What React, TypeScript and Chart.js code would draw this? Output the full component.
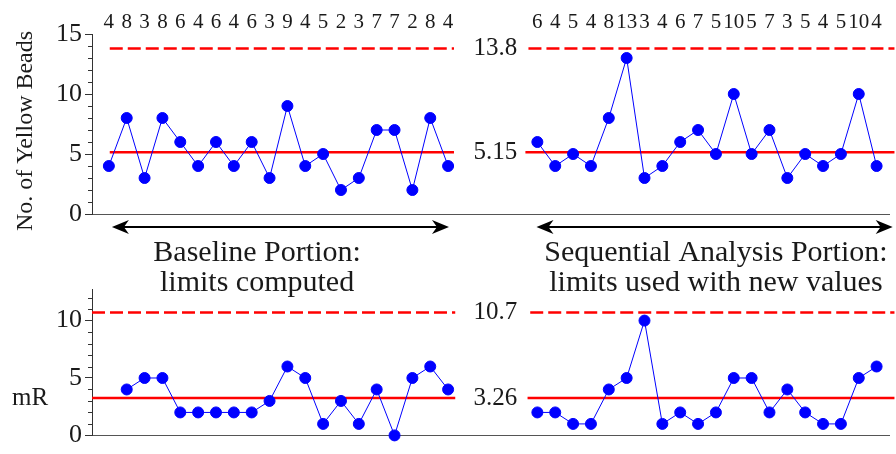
import { useEffect, useRef } from 'react';
import { Chart, registerables } from 'chart.js';
Chart.register(...registerables);

// ---- data ----
const baselineValues = [4, 8, 3, 8, 6, 4, 6, 4, 6, 3, 9, 4, 5, 2, 3, 7, 7, 2, 8, 4];
const sequentialValues = [6, 4, 5, 4, 8, 13, 3, 4, 6, 7, 5, 10, 5, 7, 3, 5, 4, 5, 10, 4];
const baselineMR: (number | null)[] = [null, 4, 5, 5, 2, 2, 2, 2, 2, 3, 6, 5, 1, 3, 1, 4, 0, 5, 6, 4];
const sequentialMR = [2, 2, 1, 1, 4, 5, 10, 1, 2, 1, 2, 5, 5, 2, 4, 2, 1, 1, 5, 6];
const xCenterLine = 5.15;
const xUpperLimit = 13.8;
const mrCenterLine = 3.26;
const mrUpperLimit = 10.7;
const xLabelTexts = ['13.8', '5.15'];
const mrLabelTexts = ['10.7', '3.26'];
const seqStart = 24; // index where the sequential portion begins
const yTitle = 'No. of Yellow Beads';
const mrTitle = 'mR';
const baselineCaption = ['Baseline Portion:', 'limits computed'];
const sequentialCaption = ['Sequential Analysis Portion:', 'limits used with new values'];

const FONT = '"Liberation Serif", "DejaVu Serif", serif';
const BLUE = '#0000ff';
const RED = '#ff0000';
const INK = '#1a1a1a';
const AXIS = '#333333';
const W = 896;
const H = 454;
const X_MIN = -17 / 18;
const X_MAX = 787 / 18;

const pts = (vals: (number | null)[], start: number) =>
  vals.map((v, i) => ({ x: start + i, y: v }));

const seriesDs = (data: any[]) => ({
  data,
  borderColor: BLUE,
  borderWidth: 1,
  pointRadius: 5.5,
  pointBorderWidth: 1,
  pointBackgroundColor: BLUE,
  pointBorderColor: BLUE,
  fill: false,
  tension: 0,
  clip: false as any,
  spanGaps: false,
});

const limitDs = (x0: number, x1: number, y: number, dashed: boolean) => ({
  data: [{ x: x0, y }, { x: x1, y }],
  borderColor: RED,
  borderWidth: 2.5,
  borderDash: dashed ? [13, 5] : [],
  pointRadius: 0,
  fill: false,
  clip: false as any,
});

function minorTicks(maxVal: number) {
  return {
    id: 'minorTicks',
    afterDraw(chart: any) {
      const { ctx } = chart;
      const ys = chart.scales.y;
      const left = chart.chartArea.left;
      ctx.save();
      ctx.strokeStyle = AXIS;
      ctx.lineWidth = 1;
      for (let v = 0; v <= maxVal; v++) {
        if (v % 5 === 0) continue;
        const py = Math.round(ys.getPixelForValue(v)) + 0.5;
        ctx.beginPath();
        ctx.moveTo(left - 4, py);
        ctx.lineTo(left, py);
        ctx.stroke();
      }
      ctx.restore();
    },
  };
}

function drawArrowHead(ctx: CanvasRenderingContext2D, x: number, y: number, dir: number) {
  ctx.beginPath();
  ctx.moveTo(x, y);
  ctx.lineTo(x - dir * 17, y - 7);
  ctx.lineTo(x - dir * 12, y);
  ctx.lineTo(x - dir * 17, y + 7);
  ctx.closePath();
  ctx.fill();
}

function drawArrow(ctx: CanvasRenderingContext2D, x0: number, x1: number, y: number) {
  ctx.save();
  ctx.strokeStyle = '#000';
  ctx.fillStyle = '#000';
  ctx.lineWidth = 2;
  ctx.beginPath();
  ctx.moveTo(x0 + 10, y);
  ctx.lineTo(x1 - 10, y);
  ctx.stroke();
  drawArrowHead(ctx, x0, y, -1);
  drawArrowHead(ctx, x1, y, 1);
  ctx.restore();
}

const topTextPlugin = {
  id: 'topText',
  afterDraw(chart: any) {
    const { ctx, chartArea } = chart;
    const xs = chart.scales.x;
    const ys = chart.scales.y;
    ctx.save();
    ctx.fillStyle = INK;
    ctx.font = `21px ${FONT}`;
    ctx.textAlign = 'center';
    ctx.textBaseline = 'alphabetic';
    baselineValues.forEach((v, i) => ctx.fillText(String(v), xs.getPixelForValue(i), 28));
    sequentialValues.forEach((v, i) => ctx.fillText(String(v), xs.getPixelForValue(seqStart + i), 28));
    ctx.font = `25px ${FONT}`;
    ctx.textAlign = 'right';
    ctx.textBaseline = 'middle';
    const lx = xs.getPixelForValue(seqStart) - 20;
    ctx.fillText(xLabelTexts[0], lx, ys.getPixelForValue(xUpperLimit));
    ctx.fillText(xLabelTexts[1], lx, ys.getPixelForValue(xCenterLine));
    ctx.save();
    ctx.font = `24px ${FONT}`;
    ctx.translate(26, (chartArea.top + chartArea.bottom) / 2 + 7);
    ctx.rotate(-Math.PI / 2);
    ctx.textAlign = 'center';
    ctx.fillText(yTitle, 0, 0);
    ctx.restore();
    const ay = chartArea.bottom + 13;
    drawArrow(ctx, xs.getPixelForValue(0.17), xs.getPixelForValue(19.05), ay);
    drawArrow(ctx, xs.getPixelForValue(23.95), xs.getPixelForValue(43.9), ay);
    ctx.font = `30px ${FONT}`;
    ctx.textAlign = 'center';
    ctx.textBaseline = 'alphabetic';
    const c1 = xs.getPixelForValue(8.3);
    const c2 = xs.getPixelForValue(34.0);
    ctx.fillText(baselineCaption[0], c1, chartArea.bottom + 47);
    ctx.fillText(baselineCaption[1], c1, chartArea.bottom + 77);
    ctx.fillText(sequentialCaption[0], c2, chartArea.bottom + 47);
    ctx.fillText(sequentialCaption[1], c2, chartArea.bottom + 77);
    ctx.restore();
  },
};

const bottomTextPlugin = {
  id: 'bottomText',
  afterDraw(chart: any) {
    const { ctx } = chart;
    const xs = chart.scales.x;
    const ys = chart.scales.y;
    ctx.save();
    ctx.fillStyle = INK;
    ctx.font = `25px ${FONT}`;
    ctx.textAlign = 'right';
    ctx.textBaseline = 'middle';
    const lx = xs.getPixelForValue(seqStart) - 20;
    ctx.fillText(mrLabelTexts[0], lx, ys.getPixelForValue(mrUpperLimit));
    ctx.fillText(mrLabelTexts[1], lx, ys.getPixelForValue(mrCenterLine));
    ctx.textAlign = 'center';
    ctx.fillText(mrTitle, 30, ys.getPixelForValue(mrCenterLine));
    ctx.restore();
  },
};

function baseOptions(padTop: number, padBottom: number, yMax: number) {
  return {
    animation: false as const,
    responsive: false,
    maintainAspectRatio: false,
    events: [] as any[],
    layout: { padding: { top: padTop, bottom: padBottom, left: 0, right: 0 } },
    plugins: { legend: { display: false }, tooltip: { enabled: false } },
    scales: {
      x: {
        type: 'linear' as const,
        min: X_MIN,
        max: X_MAX,
        ticks: { display: false },
        grid: { display: false },
        border: { display: true, color: '#555', width: 1 },
        afterFit: (s: any) => {
          s.height = 0;
        },
      },
      y: {
        type: 'linear' as const,
        min: 0,
        max: yMax,
        ticks: {
          stepSize: 5,
          includeBounds: false,
          color: INK,
          padding: 3,
          font: { family: FONT, size: 26 },
        },
        grid: { drawOnChartArea: false, drawTicks: true, tickLength: 7, color: AXIS },
        border: { display: true, color: AXIS, width: 1 },
        afterFit: (s: any) => {
          s.width = 92;
        },
      },
    },
  };
}

export default function App() {
  const topRef = useRef<HTMLCanvasElement>(null);
  const botRef = useRef<HTMLCanvasElement>(null);

  useEffect(() => {
    let cancelled = false;
    let top: Chart | null = null;
    let bot: Chart | null = null;
    const build = () => {
      if (cancelled) return;
      top = new Chart(topRef.current!, {
        type: 'line',
        data: {
          datasets: [
            seriesDs(pts(baselineValues, 0)),
            seriesDs(pts(sequentialValues, seqStart)),
            limitDs(0.05, 19.33, xUpperLimit, true),
            limitDs(0.05, 19.33, xCenterLine, false),
            limitDs(seqStart - 0.5, 44, xUpperLimit, true),
            limitDs(seqStart - 0.67, 44, xCenterLine, false),
          ] as any,
        },
        options: baseOptions(34, H - 214, 15) as any,
        plugins: [minorTicks(15), topTextPlugin],
      });
      bot = new Chart(botRef.current!, {
        type: 'line',
        data: {
          datasets: [
            seriesDs(pts(baselineMR, 0)),
            seriesDs(pts(sequentialMR, seqStart)),
            limitDs(X_MIN, 19.4, mrUpperLimit, true),
            limitDs(X_MIN, 19.4, mrCenterLine, false),
            limitDs(seqStart - 0.4, 44, mrUpperLimit, true),
            limitDs(seqStart - 0.55, 44, mrCenterLine, false),
          ] as any,
        },
        options: baseOptions(289, H - 442, 12.75) as any,
        plugins: [minorTicks(12), bottomTextPlugin],
      });
    };
    const fonts = (document as any).fonts;
    if (fonts && fonts.load) {
      Promise.all([fonts.load('24px "Liberation Serif"'), fonts.load('24px "DejaVu Serif"')])
        .catch(() => null)
        .then(build);
    } else {
      build();
    }
    return () => {
      cancelled = true;
      if (top) top.destroy();
      if (bot) bot.destroy();
    };
  }, []);

  const cs: React.CSSProperties = { position: 'absolute', left: 0, top: 0, width: W, height: H };
  return (
    <div style={{ position: 'fixed', left: 0, top: 0, width: W, height: H, background: '#fff', overflow: 'hidden', fontFamily: FONT }}>
      <span style={{ position: 'absolute', left: -1000, top: 0, fontFamily: '"Liberation Serif"' }}>.</span>
      <canvas ref={topRef} width={W} height={H} style={cs} />
      <canvas ref={botRef} width={W} height={H} style={cs} />
    </div>
  );
}
